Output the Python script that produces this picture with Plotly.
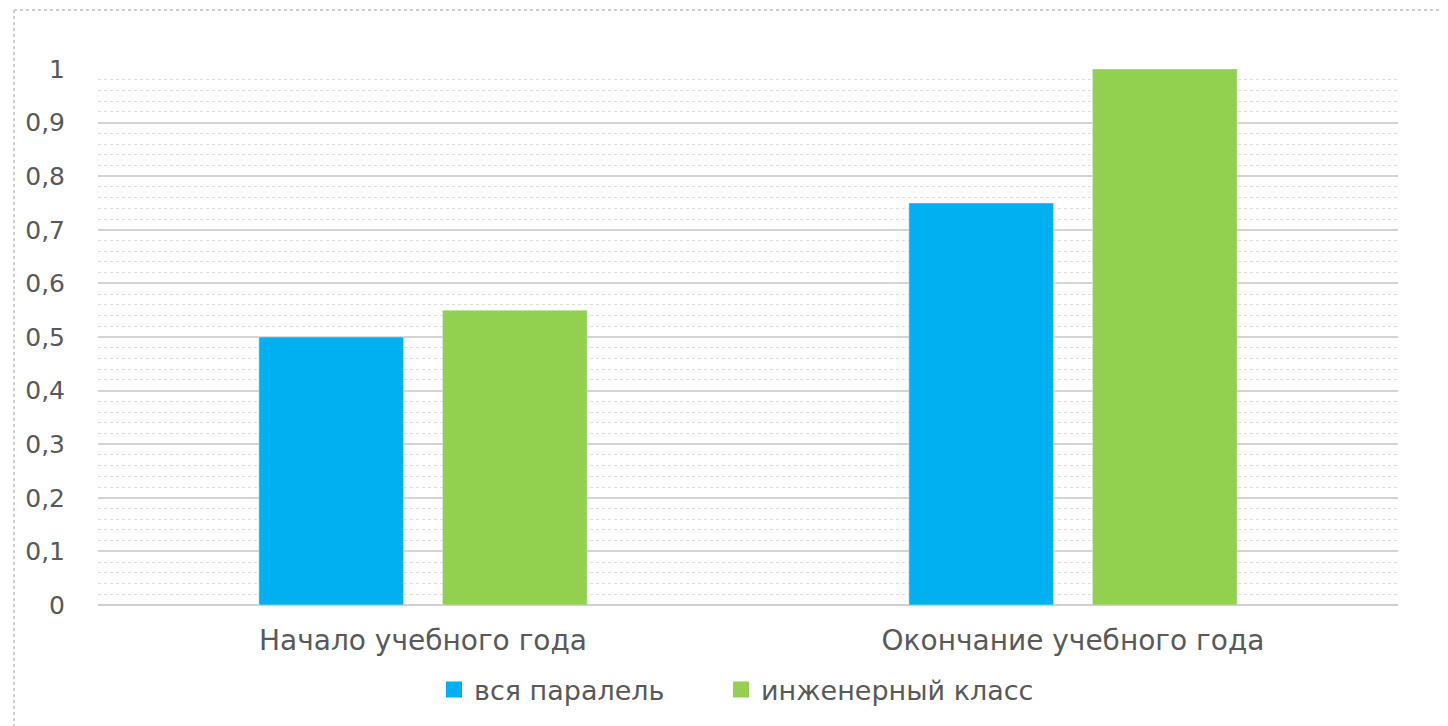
import plotly.graph_objects as go

categories = ["Начало учебного года", "Окончание учебного года"]
series_names = ["вся паралель", "инженерный класс"]
vsya = [0.5, 0.75]
inzh = [0.55, 1.0]
tick_vals = [0, 0.1, 0.2, 0.3, 0.4, 0.5, 0.6, 0.7, 0.8, 0.9, 1.0]
tick_text = ["0", "0,1", "0,2", "0,3", "0,4", "0,5", "0,6", "0,7", "0,8", "0,9", "1"]

W, H = 1440, 718
L, R, T, B = 90, 50, 61, 121
pw, ph = W - L - R, H - T - B

BLUE, GREEN = "#00B0F0", "#92D050"
FONT = "DejaVu Sans, Verdana, sans-serif"

fig = go.Figure()
fig.add_trace(go.Bar(x=categories, y=vsya, name=series_names[0], marker_color=BLUE, showlegend=False))
fig.add_trace(go.Bar(x=categories, y=inzh, name=series_names[1], marker_color=GREEN, showlegend=False))
# legend entries with larger square swatches
fig.add_trace(go.Scatter(x=[None], y=[None], mode="markers", name=series_names[0], legend="legend",
                         marker=dict(symbol="square", size=18, color=BLUE)))
fig.add_trace(go.Scatter(x=[None], y=[None], mode="markers", name=series_names[1], legend="legend2",
                         marker=dict(symbol="square", size=18, color=GREEN)))

leg_common = dict(orientation="h", xanchor="left", y=-85 / ph, yanchor="middle",
                  font=dict(size=27, color="#595959"), itemwidth=30, itemsizing="trace",
                  bgcolor="rgba(0,0,0,0)")

fig.update_layout(
    width=W, height=H,
    margin=dict(l=L, r=R, t=T, b=B),
    paper_bgcolor="white", plot_bgcolor="white",
    barmode="group", bargap=0.435, bargroupgap=0.2125,
    font=dict(family=FONT, color="#595959"),
    showlegend=True,
    legend=dict(x=(426 - L) / pw, **leg_common),
    legend2=dict(x=(713 - L) / pw, **leg_common),
    xaxis=dict(showgrid=False, showline=False, ticks="", ticklabelstandoff=16,
               tickfont=dict(size=28, color="#595959")),
    yaxis=dict(range=[0, 1.0], tickvals=tick_vals, ticktext=tick_text,
               tickfont=dict(size=25, color="#595959"), showline=False, ticks="",
               ticklabelstandoff=32,
               showgrid=True, gridcolor="#d4d4d4", gridwidth=2, zeroline=True,
               zerolinecolor="#cfcfcf", zerolinewidth=2,
               minor=dict(dtick=0.02, showgrid=True, gridcolor="#dcdcdc", gridwidth=1, griddash="dot")),
    shapes=[
        dict(type="line", xref="paper", yref="paper", x0=(6 - L) / pw, x1=(6 - L) / pw,
             y0=-1, y1=1 + (T - 2) / ph, line=dict(color="#d0d0d0", width=2, dash="dot")),
        dict(type="line", xref="paper", yref="paper", x0=(6 - L) / pw, x1=2,
             y0=1 + (T - 2) / ph, y1=1 + (T - 2) / ph, line=dict(color="#d0d0d0", width=2, dash="dot")),
    ],
)

fig.write_html("out.html")
